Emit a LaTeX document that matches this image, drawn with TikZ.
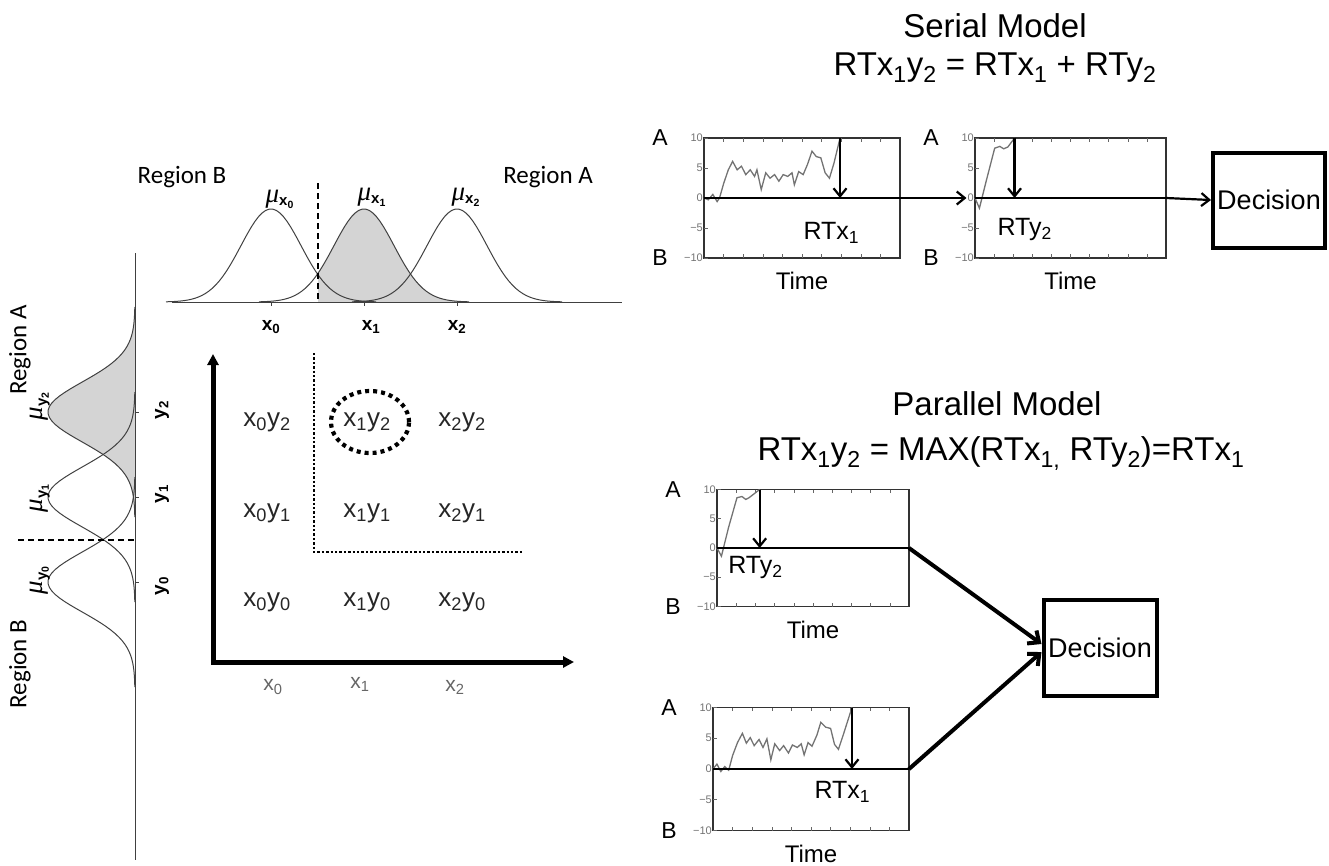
\documentclass[tikz,border=0pt]{standalone}
\usepackage{fontspec}
\setmainfont{Liberation Sans}
\newfontfamily\regionfont{Carlito}
\newfontfamily\mufont{Liberation Serif}
\usetikzlibrary{arrows.meta}

\newcommand\fsz[1]{\fontsize{#1}{#1}\selectfont}
\newcommand\mulabel[2]{{\mufont\itshape μ}\textsubscript{\bfseries\fsz{15}#1\textsubscript{#2}}}

% name, left, zero y, width, height, walk, arrow t, label pos, label
\newcommand\rtchart[9]{%
\begin{scope}[shift={(#2,#3)},xscale=#4,yscale={-#5/20}]
\draw[chartframe] (0,-10) rectangle (1,10);
\foreach \t in {0.1,0.2,...,0.95}{
\draw[charttick] (\t,10) -- ++(0,-0.6);
\draw[charttick] (\t,-10) -- ++(0,0.6);
}
\foreach \v/\lab [count=\i] in {10/10,5/5,0/0,-5/\textminus5,-10/\textminus10}{
\draw[charttick] (0,\v) -- ++(0.02,0);
\node[ticklab] (#1-v\i) at (0,\v) {\lab};
}
\draw[trace] plot coordinates {#6};
\draw[zeroline] (0,0) coordinate (#1-zw) -- (1,0) coordinate (#1-ze);
\draw[rtarrow] (#7,10) -- (#7,0);
\node[rtlab] (#1-rt) at (#8) {#9};
\node[sidelab] (#1-a) at (0,10) {A};
\node[sidelab] (#1-b) at (0,-10) {B};
\node[timelab] (#1-time) at (0.5,-10) {Time};
\end{scope}}

\begin{document}
\begin{tikzpicture}[x=1pt,y=-1pt,
gauss/.style={black!75,line width=1pt},
shadearea/.style={fill=black!17},
cutline/.style={line width=1.6pt,dash pattern=on 6pt off 4pt},
regionlab/.style={font=\regionfont\fsz{25}},
mulab/.style={font=\fsz{27}},
boldlab/.style={font=\bfseries\fsz{19}},
cell/.style={font=\fsz{26},text=black!85},
cornerlab/.style={font=\fsz{21},text=black!60},
bigaxis/.style={line width=5pt,{Triangle[length=11pt,width=11pt]}-{Triangle[length=11pt,width=11pt]}},
dotline/.style={line width=2.6pt,dash pattern=on 2.4pt off 2pt},
dotring/.style={line width=4.2pt,dash pattern=on 4pt off 4pt},
chartframe/.style={black!80,line width=1.3pt},
charttick/.style={black!60,line width=0.6pt},
ticklab/.style={anchor=east,font=\fsz{11},text=black!55,inner sep=1pt},
trace/.style={black!55,line width=1.3pt},
zeroline/.style={line width=1.8pt},
rtarrow/.style={line width=2.2pt,-{Straight Barb[length=8pt,width=13pt]}},
rtlab/.style={font=\fsz{25}},
sidelab/.style={font=\fsz{23},xshift=-44pt},
timelab/.style={font=\fsz{24},yshift=-23pt},
title/.style={font=\fsz{33},anchor=base},
decbox/.style={draw,line width=4pt,minimum width=112pt,minimum height=95pt,font=\fsz{27}},
serialarrow/.style={line width=2.2pt,-{Straight Barb[length=8pt,width=13pt]}},
parallelarrow/.style={line width=4pt,-{Straight Barb[length=9pt,width=16pt]}}]
\useasboundingbox (0,0) rectangle (1329,865);

% x distributions
\fill[shadearea] (318,302) -- plot[domain=318:469,samples=40] (\x,{302-93*exp(-0.5*((\x-364)/30)^2)}) -- (469,302) -- cycle;
\foreach \m in {271,364,457}{
\draw[gauss] plot[domain={\m-105}:{\m+105},samples=60] (\x,{302-93*exp(-0.5*((\x-\m)/30)^2)});
\draw[gauss] (\m,302) -- (\m,306);
}
\draw[gauss] (172,302) -- (622,302);
\draw[cutline] (318,183) -- (318,302);
\node[regionlab] (rb) at (182,177) {Region B};
\node[regionlab] (ra) at (548,177) {Region A};
\node[mulab] (mux0) at (280,199) {\mulabel{x}{0}};
\node[mulab] (mux1) at (372,197) {\mulabel{x}{1}};
\node[mulab] (mux2) at (466,197) {\mulabel{x}{2}};
\node[boldlab] (lx0) at (271,327) {x\textsubscript{0}};
\node[boldlab] (lx1) at (371,327) {x\textsubscript{1}};
\node[boldlab] (lx2) at (457,327) {x\textsubscript{2}};

% y distributions
\fill[shadearea] (135,307) -- plot[variable=\t,domain=307:517,samples=60] ({135-87*exp(-0.5*((\t-412)/30)^2)},\t) -- (135,517) -- cycle;
\foreach \m in {412,497,582}{
\draw[gauss] plot[variable=\t,domain={\m-105}:{\m+105},samples=60] ({135-87*exp(-0.5*((\t-\m)/30)^2)},\t);
\draw[gauss] (135,\m) -- (139,\m);
}
\draw[gauss] (135,253) -- (135,860);
\draw[cutline] (18,540) -- (135,540);
\node[regionlab,rotate=90] (ray) at (20,350) {Region A};
\node[regionlab,rotate=90] (rby) at (20,664) {Region B};
\node[mulab,rotate=90] (muy2) at (40,406) {\mulabel{y}{2}};
\node[mulab,rotate=90] (muy1) at (40,498) {\mulabel{y}{1}};
\node[mulab,rotate=90] (muy0) at (40,580) {\mulabel{y}{0}};
\node[boldlab,rotate=90] (ly2) at (162,410) {y\textsubscript{2}};
\node[boldlab,rotate=90] (ly1) at (162,494) {y\textsubscript{1}};
\node[boldlab,rotate=90] (ly0) at (162,586) {y\textsubscript{0}};

% stimulus grid
\draw[bigaxis] (213,354) -- (213,662) -- (574,662);
\draw[dotline] (314,353) -- (314,552) -- (522,552);
\foreach \i/\gx in {0/267,1/367,2/462}{
\foreach \j/\gy in {0/602,1/513,2/422}{
\node[cell] (c\i\j) at (\gx,\gy) {x\textsubscript{\i}y\textsubscript{\j}};
}
}
\draw[dotring] (370,422) ellipse [x radius=39pt,y radius=31pt];
\node[cornerlab] (bx0) at (273,687) {x\textsubscript{0}};
\node[cornerlab] (bx1) at (360,684) {x\textsubscript{1}};
\node[cornerlab] (bx2) at (455,687) {x\textsubscript{2}};

% serial model
\node[title] (stitle) at (995,37) {Serial Model};
\node[title] (seq) at (995,75) {RTx\textsubscript{1}y\textsubscript{2} = RTx\textsubscript{1} + RTy\textsubscript{2}};
\rtchart{s1}{704}{198}{196}{120}{(0,0) (0.022,-0.3) (0.045,0.6) (0.067,-0.6) (0.079,0) (0.101,2.5) (0.124,4.7) (0.146,6.1) (0.169,4.7) (0.191,5.3) (0.213,3.9) (0.236,4.7) (0.258,3.6) (0.27,4.7) (0.292,1.4) (0.315,4.2) (0.337,3.3) (0.36,3.9) (0.382,2.8) (0.404,3.9) (0.427,3.6) (0.449,4.2) (0.461,2.2) (0.483,4.4) (0.506,3.9) (0.528,5.6) (0.551,7.8) (0.573,6.9) (0.596,6.7) (0.618,4.2) (0.64,3.3) (0.663,5.8) (0.694,10)}{0.694}{0.65,-5.8}{RTx\textsubscript{1}}
\rtchart{s2}{975}{198}{191}{120}{(0,0) (0.023,-1.7) (0.06,3) (0.103,8.3) (0.13,8.6) (0.15,8.2) (0.172,8.5) (0.207,10)}{0.207}{0.26,-5.3}{RTy\textsubscript{2}}
\node[decbox] (dec1) at (1269,200) {Decision};
\draw[serialarrow] (s1-ze) -- (s2-v3.west);
\draw[serialarrow] (s2-ze) -- (dec1.west);

% parallel model
\node[title] (ptitle) at (997,415) {Parallel Model};
\node[title] (peq) at (1001,460) {RTx\textsubscript{1}y\textsubscript{2} = MAX(RTx\textsubscript{1,} RTy\textsubscript{2})=RTx\textsubscript{1}};
\rtchart{p1}{717}{548}{192}{117}{(0,0) (0.023,-1.4) (0.06,3.5) (0.104,8.6) (0.13,8.8) (0.15,8.3) (0.167,8.6) (0.222,10)}{0.222}{0.2,-3.4}{RTy\textsubscript{2}}
\rtchart{p2}{713}{769}{196}{123}{(0,0) (0.02,0.8) (0.04,-0.4) (0.06,0.4) (0.08,-0.2) (0.1,2.2) (0.125,4.3) (0.15,5.8) (0.17,4.2) (0.19,5.1) (0.21,3.8) (0.235,4.8) (0.255,3.5) (0.275,4.9) (0.295,1.5) (0.315,4.1) (0.34,3.0) (0.36,3.8) (0.385,2.6) (0.405,3.9) (0.43,3.5) (0.45,4.1) (0.465,2.3) (0.485,4.3) (0.505,3.7) (0.53,5.5) (0.55,7.6) (0.575,6.8) (0.6,6.6) (0.62,4.0) (0.64,3.2) (0.665,5.6) (0.709,10)}{0.709}{0.66,-3.7}{RTx\textsubscript{1}}
\node[decbox,minimum width=113pt,minimum height=96pt] (dec2) at (1100,648) {Decision};
\draw[parallelarrow] (p1-ze) -- ([yshift=4pt]dec2.west);
\draw[parallelarrow] (p2-ze) -- ([yshift=-4pt]dec2.west);
\end{tikzpicture}
\end{document}
